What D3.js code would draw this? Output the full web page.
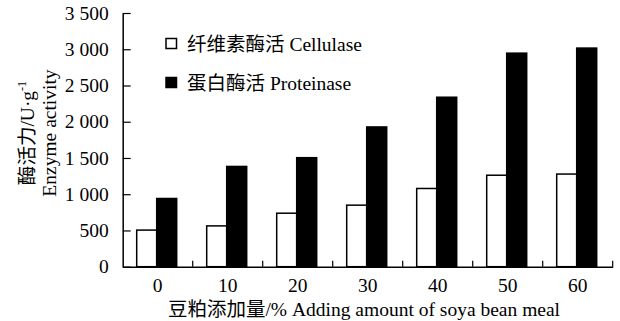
<!DOCTYPE html>
<html><head><meta charset="utf-8">
<script src="https://cdn.jsdelivr.net/npm/d3@7"></script>
<style>body{margin:0;background:#fff}text{font-family:"Liberation Serif","Times New Roman","Noto Sans CJK SC",serif;fill:#000}</style>
</head><body><svg id="c" width="620" height="321"></svg>
<script>
const categories = ["0","10","20","30","40","50","60"];
const cellulase = [505, 563, 738, 849, 1079, 1262, 1278];
const proteinase = [941, 1383, 1504, 1928, 2338, 2946, 3016];
const yTicks = [0,500,1000,1500,2000,2500,3000,3500];
const seriesNames = ["纤维素酶活 Cellulase","蛋白酶活 Proteinase"];
const seriesFill = ["#fff","#000"];

const FS = "19.5px";
const svg = d3.select("#c");
const m = {l:122.7, r:612.7, t:13, b:266.7};
const x = d3.scaleBand().domain(categories).range([m.l,m.r]).paddingInner(0).paddingOuter(0);
const y = d3.scaleLinear().domain([0,3500]).range([m.b,m.t]);
const fmt = v => { const s = String(v); return s.length>3 ? s.slice(0,-3)+" "+s.slice(-3) : s; };
const bw = 20;

const data = [cellulase, proteinase];
data.forEach((arr,si)=>{
  svg.append("g").selectAll("rect").data(arr).join("rect")
    .attr("x",(d,i)=>x(categories[i])+x.bandwidth()/2-bw-1+si*bw)
    .attr("y",d=>y(d))
    .attr("width",bw).attr("height",d=>y(0)-y(d))
    .attr("fill",seriesFill[si]).attr("stroke","#000").attr("stroke-width",1.5);
});

// y axis
const ya = svg.append("g").attr("transform",`translate(${m.l},0)`)
  .call(d3.axisLeft(y).tickValues(yTicks).tickFormat(fmt).tickSizeInner(-8).tickSizeOuter(0).tickPadding(14));
ya.select(".domain").attr("stroke-width",1.5);
ya.selectAll(".tick line").attr("stroke-width",1.2);
ya.selectAll("text").style("font-size",FS);

// x axis
const xa = svg.append("g").attr("transform",`translate(0,${m.b})`)
  .call(d3.axisBottom(x).tickSize(0).tickPadding(11));
xa.select(".domain").attr("stroke-width",1.5);
xa.selectAll("text").style("font-size",FS);
const bounds = categories.slice(1).map(c=>x(c)).concat([m.r]);
svg.append("g").selectAll("line").data(bounds).join("line")
  .attr("x1",d=>d).attr("x2",d=>d).attr("y1",m.b).attr("y2",m.b-6)
  .attr("stroke","#000").attr("stroke-width",1.2);

// axis titles
svg.append("text").attr("x",364).attr("y",316).attr("text-anchor","middle")
  .style("font-size",FS).text("豆粕添加量/% Adding amount of soya bean meal");
const yt = svg.append("g").attr("transform","translate(34,133) rotate(-90)");
const t1 = yt.append("text").attr("text-anchor","middle").style("font-size",FS);
t1.append("tspan").text("酶活力/U·g");
t1.append("tspan").attr("dy",-8).style("font-size","12px").text("-1");
yt.append("text").attr("y",22).attr("text-anchor","middle").style("font-size",FS).text("Enzyme activity");

// legend
seriesNames.forEach((n,i)=>{
  const cy = 43.5 + i*39;
  svg.append("rect").attr("x",166).attr("y",cy-5).attr("width",10.5).attr("height",10)
    .attr("fill",seriesFill[i]).attr("stroke","#000").attr("stroke-width",1.5);
  svg.append("text").attr("x",187).attr("y",cy+7).style("font-size",FS).text(n);
});
</script></body></html>
